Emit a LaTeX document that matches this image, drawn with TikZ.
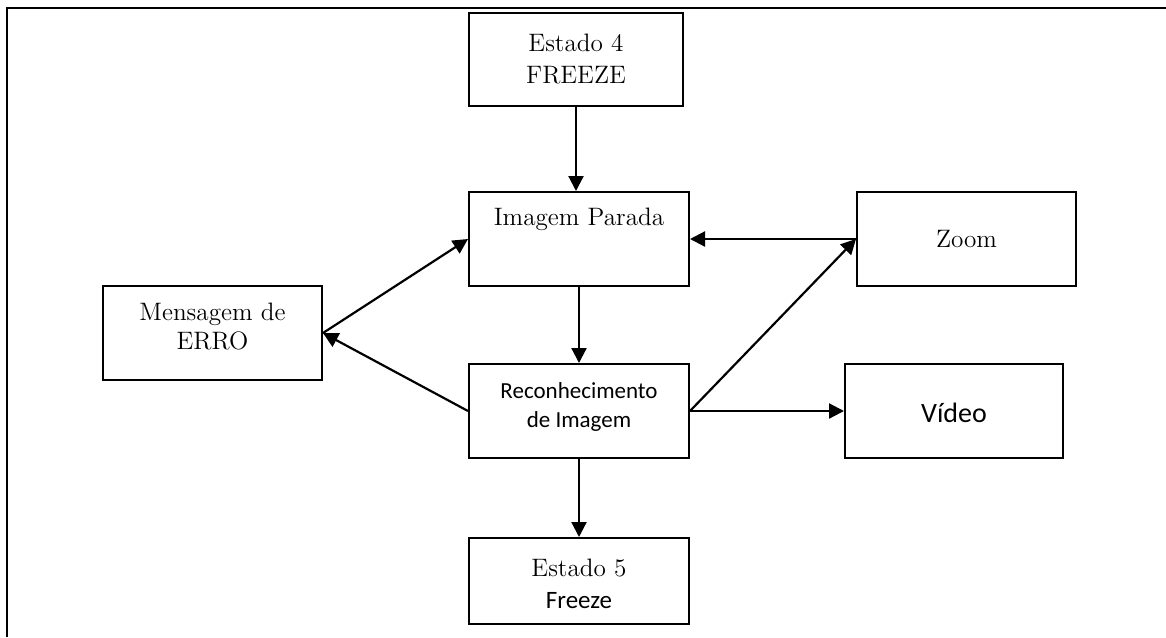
\documentclass[tikz,border=0pt]{standalone}
\usepackage{fontspec}
\newfontfamily\carl{Carlito}
\usetikzlibrary{arrows.meta,calc}
\newcommand\serf{\fontsize{12.6}{16}\selectfont}
\begin{document}
\begin{tikzpicture}[x=0.5pt,y=-0.5pt,
  box/.style={draw,line width=1pt,inner sep=0pt,minimum width=110pt,minimum height=47pt,align=center,font=\serf},
  txt/.style={inner sep=0pt,align=center,font=\serf},
  arr/.style={-{Triangle[length=7.5pt,width=7.5pt]},line width=1.1pt}]
\useasboundingbox (0,0) rectangle (1166,637);
\draw[line width=1.3pt] (7,637) -- (7,8) -- (1166,8);
\node[box,minimum width=107pt,minimum height=46.5pt] (e4) at (576,59.5) {Estado 4\\FREEZE};
\node[box] (ip) at (579,239) {};
\node[txt,anchor=base] (iptxt) at (579,225) {Imagem Parada};
\node[box,font=\carl\fontsize{11.5}{14.5}\selectfont] (rec) at (579,411) {Reconhecimento\\de Imagem\\[-9pt]};
\node[box,minimum height=43pt] (e5) at (579,581) {\\[-4pt]Estado 5\\{\carl\fontsize{12.5}{15}\selectfont Freeze}};
\node[box,minimum width=109.5pt] (err) at (212.5,333) {Mensagem de\\[-1.5pt]ERRO\\[-9pt]};
\node[box,minimum width=109.5pt] (zoom) at (966.5,239) {Zoom};
\node[box,minimum width=109pt,font=\carl\fontsize{14}{16}\selectfont] (vid) at (954,411) {\\[-4pt]Vídeo};
\draw[arr] (e4.south) -- (e4.south |- ip.north);
\draw[arr] (ip.south) -- (rec.north);
\draw[arr] (rec.south) -- (e5.north);
\draw[arr] (zoom.west) -- (ip.east);
\draw[arr] (rec.east) -- (zoom.west);
\draw[arr] (rec.east) -- (vid.west);
\draw[arr] (rec.west) -- (err.east);
\draw[arr] (err.east) -- (ip.west);
\end{tikzpicture}
\end{document}
